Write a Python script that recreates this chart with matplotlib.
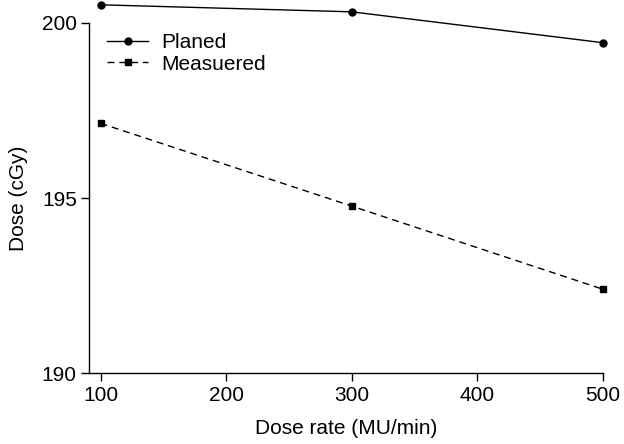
import matplotlib
matplotlib.use('Agg')
import matplotlib.pyplot as plt

plt.rcParams['font.family'] = ['Liberation Sans', 'DejaVu Sans']

dose_rate = [100, 300, 500]
planed = [200.51, 200.31, 199.43]
measured = [197.13, 194.77, 192.40]

fig = plt.figure(figsize=(6.24, 4.44), dpi=100)
ax = fig.add_axes([0.1431, 0.1592, 0.8228, 0.7897])

ax.plot(dose_rate, planed, color='black', lw=1.0, marker='o', ms=5,
        label='Planed', clip_on=False)
ax.plot(dose_rate, measured, color='black', lw=1.0, ls=(0, (5, 3.5)), marker='s', ms=4.5,
        label='Measuered', clip_on=False)

ax.set_xlim(91, 500)
ax.set_ylim(190, 200)
ax.set_xticks([100, 200, 300, 400, 500])
ax.set_yticks([190, 195, 200])
ax.spines['top'].set_visible(False)
ax.spines['right'].set_visible(False)
for s in ['left', 'bottom']:
    ax.spines[s].set_linewidth(1.0)
ax.tick_params(direction='out', length=6, width=1.0, labelsize=15, pad=3)

ax.set_xlabel('Dose rate (MU/min)', fontsize=15, labelpad=10)
ax.set_ylabel('Dose (cGy)', fontsize=15, labelpad=10)

ax.legend(loc='upper left', bbox_to_anchor=(0.034, 0.97), frameon=False, fontsize=15,
          handlelength=2.0, handletextpad=0.6, borderaxespad=0, borderpad=0,
          labelspacing=0.12)

fig.savefig('out.png', dpi=100)
